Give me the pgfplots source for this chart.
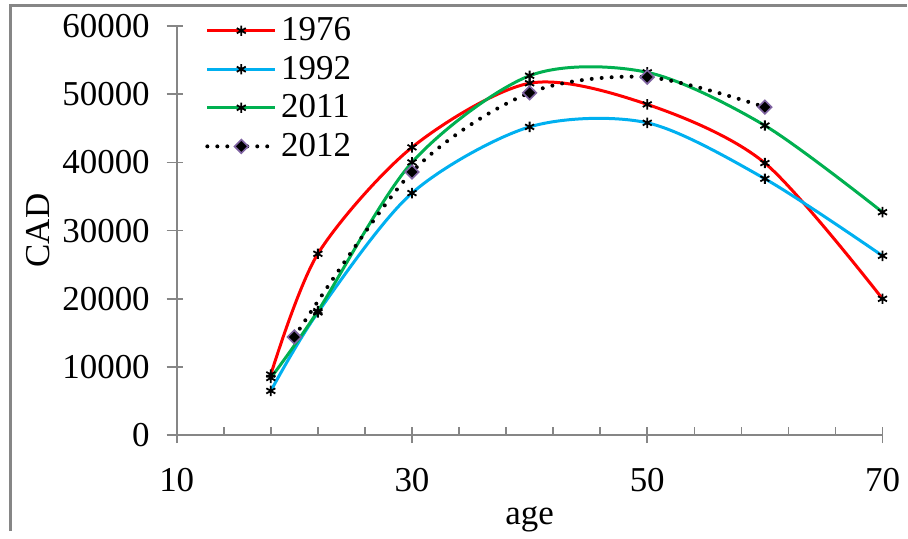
\documentclass[border=0pt]{standalone}
\usepackage{fontspec}
\setmainfont{Liberation Serif}
\usepackage{pgfplots}
\pgfplotsset{compat=1.18}
\definecolor{cRed}{RGB}{255,0,0}
\definecolor{cBlue}{RGB}{0,176,240}
\definecolor{cGreen}{RGB}{0,176,80}
\definecolor{cPurple}{RGB}{128,100,162}
\definecolor{axgray}{RGB}{134,134,134}
\begin{document}
\begin{tikzpicture}
\begin{axis}[
  scale only axis, width=353.5pt, height=205pt,
  xmin=10, xmax=70, ymin=0, ymax=60000,
  clip=false, scaled ticks=false,
  axis x line*=bottom, axis y line*=left,
  axis line style={axgray, line width=0.8pt, -},
  xtick={10,30,50,70}, minor xtick={14,18,22,26,34,38,42,46,54,58,62,66},
  ytick={0,10000,20000,30000,40000,50000,60000},
  tick align=inside,
  major tick length=8pt, minor tick length=4pt,
  every tick/.style={axgray, line width=0.8pt},
  major x tick style={yshift=-4pt},
  major y tick style={xshift=-5pt},
  /pgf/number format/1000 sep={},
  /pgf/number format/assume math mode=true,
  tick label style={font=\fontsize{17.5}{20}\selectfont},
  xticklabel style={anchor=north, yshift=-13pt},
  yticklabel style={anchor=east, xshift=-10pt},
  xlabel={age}, ylabel={CAD},
  label style={font=\fontsize{17.5}{20}\selectfont},
  xlabel style={at={(axis description cs:0.5,-0.205)}, anchor=center},
  ylabel style={at={(axis description cs:-0.197,0.5)}, anchor=center},
  legend style={draw=none, fill=none, at={(axis description cs:0.04,1.031)}, anchor=north west,
    font=\fontsize{17.5}{20}\selectfont, row sep=2.2pt, inner sep=0pt},
  legend cell align=left,
  legend image code/.code={\draw[mark repeat=2,mark phase=2,#1] plot coordinates {(0pt,0pt) (17pt,0pt) (34pt,0pt)};},
  every axis plot/.append style={line width=1.5pt, smooth, tension=0.5},
]
\addplot[cRed, mark=asterisk, mark size=2.6pt, mark options={black, solid, line width=0.9pt}]
  coordinates {(18,8900) (22,26600) (30,42200) (40,51600) (50,48500) (60,39900) (70,20000)};
\addlegendentry{1976}
\addplot[cBlue, mark=asterisk, mark size=2.6pt, mark options={black, solid, line width=0.9pt}]
  coordinates {(18,6500) (22,18000) (30,35500) (40,45200) (50,45800) (60,37600) (70,26300)};
\addlegendentry{1992}
\addplot[cGreen, mark=asterisk, mark size=2.6pt, mark options={black, solid, line width=0.9pt}]
  coordinates {(18,8400) (22,18200) (30,40000) (40,52700) (50,53200) (60,45400) (70,32700)};
\addlegendentry{2011}
\addplot[black, line width=2pt, line cap=round, dash pattern=on 0pt off 5pt,
  mark=square*, mark size=2.4pt, mark options={solid, rotate=45, fill=black, draw=cPurple, line width=0.8pt}]
  coordinates {(20,14400) (30,38600) (40,50200) (50,52500) (60,48100)};
\addlegendentry{2012}
\path (rel axis cs:-0.2504,-0.234) rectangle (rel axis cs:1.034,1.0634);
\draw[axgray, line width=1.5pt] (rel axis cs:-0.2362,-0.234) -- (rel axis cs:-0.2362,1.0488) -- (rel axis cs:1.034,1.0488);
\end{axis}
\end{tikzpicture}
\end{document}
